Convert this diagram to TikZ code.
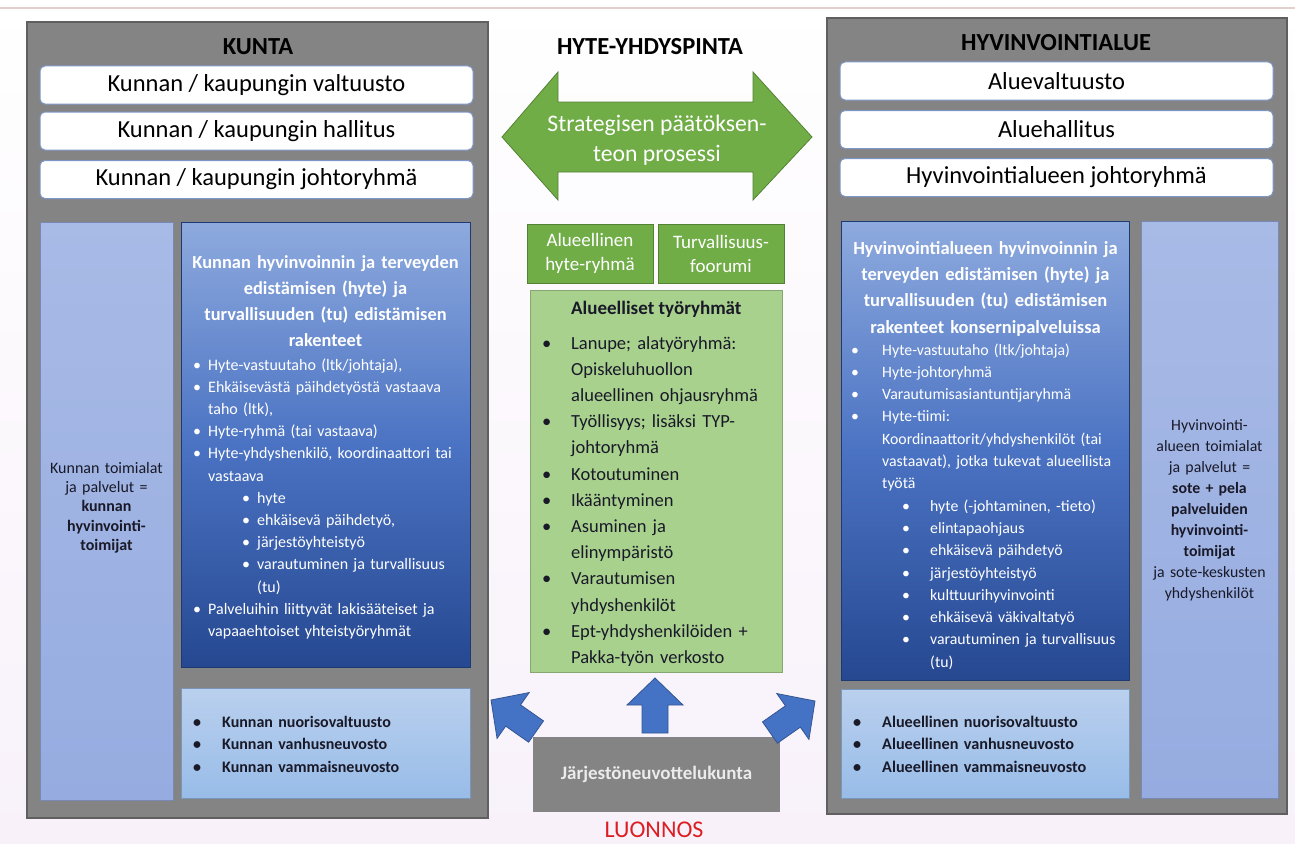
\documentclass[tikz,border=0pt]{standalone}
\usepackage{fontspec}
\setmainfont{Carlito}
\usetikzlibrary{positioning}
\definecolor{panelgray}{RGB}{132,132,132}
\definecolor{edgegray}{RGB}{95,95,95}
\definecolor{boxedge}{RGB}{125,150,200}
\definecolor{hytegreen}{RGB}{112,173,71}
\definecolor{darkgreen}{RGB}{84,130,53}
\definecolor{lightgreen}{RGB}{169,209,142}
\definecolor{bluetop}{RGB}{142,170,222}
\definecolor{bluemid}{RGB}{75,115,195}
\definecolor{bluebot}{RGB}{38,72,145}
\definecolor{paletop}{RGB}{186,208,238}
\definecolor{palebot}{RGB}{152,188,232}
\definecolor{coltop}{RGB}{168,186,230}
\definecolor{colbot}{RGB}{150,172,224}
\definecolor{arrowblue}{RGB}{68,114,196}
\definecolor{draftred}{RGB}{220,30,35}
\definecolor{inktext}{RGB}{25,25,40}
\definecolor{bgpink}{RGB}{248,241,250}
\definecolor{topline}{RGB}{226,208,204}

\newcommand{\fs}[2]{\fontsize{#1}{#2}\selectfont}
% bullet line: bullet offset, text offset, text
\newcommand{\bul}[3]{\hangindent=#2\hangafter=1\noindent\hbox to #2{\hskip #1\textbullet\hfil}#3\par}

\begin{document}
\begin{tikzpicture}[x=1pt,y=-1pt,
  box/.style={anchor=north west,inner sep=0pt,outer sep=0pt},
  panel/.style={box,fill=panelgray,draw=edgegray,line width=1.5pt},
  wbox/.style={fill=white,draw=boxedge,line width=1pt,rounded corners=5pt,
    minimum width=433,minimum height=38,inner sep=0pt,font=\fs{24.5}{28}},
  headline/.style={font=\bfseries\fs{24.5}{28},inner sep=0pt},
  bluebox/.style={box,top color=bluetop,bottom color=bluebot,middle color=bluemid,draw=bluebot!80!black,line width=0.6pt},
  palebox/.style={box,top color=paletop,bottom color=palebot,draw=palebot!80!black,line width=0.6pt},
  colbox/.style={box,top color=coltop,bottom color=colbot,draw=colbot!80!black,line width=0.6pt},
  greenbox/.style={box,fill=hytegreen,draw=darkgreen,line width=0.8pt,align=center,
    text=white,font=\fs{19}{24}},
  listtext/.style={anchor=base west,inner sep=0pt,align=left},
  uparrow/.pic={\fill[arrowblue,draw=arrowblue!75!black,line width=0.8pt]
    (0,0) -- (28,27) -- (13,27) -- (13,55) -- (-13,55) -- (-13,27) -- (-28,27) -- cycle;}]
\useasboundingbox (0,0) rectangle (1295,843);

%background:
\shade[top color=white,bottom color=bgpink] (0,0) rectangle (1295,843);
\draw[line width=1.5pt,color=topline] (0,8) -- (1295,8);

%KUNTA:
\node[panel,minimum width=461,minimum height=796] (kunta) at (27,22) {};
\node[headline] (kuntaT) at (258,47) {KUNTA};
\node[wbox] (kval) at (256.5,85) {Kunnan / kaupungin valtuusto};
\node[wbox] (khal) at (256.5,131) {Kunnan / kaupungin hallitus};
\node[wbox] (kjoh) at (256.5,179.5) {Kunnan / kaupungin johtoryhmä};
\node[colbox,minimum width=133,minimum height=578] (kcol) at (40,222) {};
\node[bluebox,minimum width=289,minimum height=445] (kblue) at (181,222) {};
\node[palebox,minimum width=289,minimum height=110] (kpale) at (181,688) {};

\node[anchor=base,inner sep=0pt,text width=130,align=center,text=inktext,font=\fs{16}{19.4}]
  (kcolT) at (106.5,473) {Kunnan toimialat\\ja palvelut =\\\textbf{kunnan}\\\textbf{hyvinvointi-}\\\textbf{toimijat}};
\node[anchor=base,inner sep=0pt,text width=285,align=center,text=white,font=\bfseries\fs{18.4}{26}]
  (kblueT) at (325.5,268) {Kunnan hyvinvoinnin ja terveyden\\edistämisen (hyte) ja\\turvallisuuden (tu) edistämisen\\rakenteet};
\node[listtext,text width=275,text=white,font=\fs{16}{22.2}] (kblueL) at (193,370) {%
  \bul{0pt}{15pt}{Hyte-vastuutaho (ltk/johtaja),}
  \bul{0pt}{15pt}{Ehkäisevästä päihdetyöstä vastaava\newline taho (ltk),}
  \bul{0pt}{15pt}{Hyte-ryhmä (tai vastaava)}
  \bul{0pt}{15pt}{Hyte-yhdyshenkilö, koordinaattori tai\newline vastaava}
  \bul{49pt}{64pt}{hyte}
  \bul{49pt}{64pt}{ehkäisevä päihdetyö,}
  \bul{49pt}{64pt}{järjestöyhteistyö}
  \bul{49pt}{64pt}{varautuminen ja turvallisuus\newline (tu)}
  \bul{0pt}{15pt}{Palveluihin liittyvät lakisääteiset ja\newline vapaaehtoiset yhteistyöryhmät}};
\node[listtext,text width=275,text=inktext,font=\bfseries\fs{16}{22.5}] (kpaleL) at (193,727) {%
  \bul{0pt}{29pt}{Kunnan nuorisovaltuusto}
  \bul{0pt}{29pt}{Kunnan vanhusneuvosto}
  \bul{0pt}{29pt}{Kunnan vammaisneuvosto}};

%HYTE-YHDYSPINTA:
\node[headline] (hyteT) at (650,47) {HYTE-YHDYSPINTA};
\fill[hytegreen,draw=darkgreen,line width=0.8pt] (502,137) -- (558,72) -- (558,102) -- (753,102)
  -- (753,72) -- (812,137) -- (753,200) -- (753,172) -- (558,172) -- (558,200) -- cycle;
\node[align=center,text=white,font=\fs{23.7}{30},inner sep=0pt] (strat) at (657,140)
  {Strategisen päätöksen-\\teon prosessi};
\node[greenbox,minimum width=126,minimum height=59] (ahr) at (527,224) {Alueellinen\\hyte-ryhmä};
\node[greenbox,minimum width=126,minimum height=59] (tfo) at (658,224) {Turvallisuus-\\foorumi};
\node[box,fill=lightgreen,draw=lightgreen!80!black,line width=0.6pt,minimum width=252,minimum height=382] (tyor) at (530,290) {};
\node[anchor=base west,inner sep=0pt,text=inktext,font=\bfseries\fs{19}{22}] (tyorT) at (571,314) {Alueelliset työryhmät};
\node[listtext,text width=245,text=inktext,font=\fs{18.5}{26.2}] (tyorL) at (541,349) {%
  \bul{1pt}{30pt}{Lanupe; alatyöryhmä:\newline Opiskeluhuollon\newline alueellinen ohjausryhmä}
  \bul{1pt}{30pt}{Työllisyys; lisäksi TYP-\newline johtoryhmä}
  \bul{1pt}{30pt}{Kotoutuminen}
  \bul{1pt}{30pt}{Ikääntyminen}
  \bul{1pt}{30pt}{Asuminen ja\newline elinympäristö}
  \bul{1pt}{30pt}{Varautumisen\newline yhdyshenkilöt}
  \bul{1pt}{30pt}{Ept-yhdyshenkilöiden +\newline Pakka-työn verkosto}};
\node[box,fill=panelgray,minimum width=247,minimum height=75,text=white!92!black,font=\bfseries\fs{19}{22}] (jarj) at (533,737) {Järjestöneuvottelukunta};
\node[text=draftred,font=\fs{24}{26},inner sep=0pt] (luonnos) at (654,830) {LUONNOS};

%arrows:
\pic[rotate=55] at (491,700) {uparrow};
\pic at (655,678) {uparrow};
\pic[rotate=-55] at (815,701) {uparrow};

%HYVINVOINTIALUE:
\node[panel,minimum width=460,minimum height=796] (hva) at (827,18) {};
\node[headline] (hvaT) at (1056,43) {HYVINVOINTIALUE};
\node[wbox] (aval) at (1056.5,81) {Aluevaltuusto};
\node[wbox] (ahal) at (1056.5,129.5) {Aluehallitus};
\node[wbox] (hjoh) at (1056.5,177.5) {Hyvinvointialueen johtoryhmä};
\node[bluebox,minimum width=288,minimum height=459] (hblue) at (841,221) {};
\node[palebox,minimum width=288,minimum height=109] (hpale) at (841,689) {};
\node[colbox,minimum width=137,minimum height=577] (hcol) at (1141,221) {};

\node[anchor=base,inner sep=0pt,text width=134,align=center,text=inktext,font=\fs{15.8}{21}]
  (hcolT) at (1209.5,430) {Hyvinvointi-\\alueen toimialat\\ja palvelut =\\\textbf{sote + pela}\\\textbf{palveluiden}\\\textbf{hyvinvointi-}\\\textbf{toimijat}\\ja sote-keskusten\\yhdyshenkilöt};
\node[anchor=base,inner sep=0pt,text width=285,align=center,text=white,font=\bfseries\fs{18.5}{26.4}]
  (hblueT) at (985.5,254) {Hyvinvointialueen hyvinvoinnin ja\\terveyden edistämisen (hyte) ja\\turvallisuuden (tu) edistämisen\\rakenteet konsernipalveluissa};
\node[listtext,text width=275,text=white,font=\fs{15.8}{22.3}] (hblueL) at (851,355) {%
  \bul{0pt}{31pt}{Hyte-vastuutaho (ltk/johtaja)}
  \bul{0pt}{31pt}{Hyte-johtoryhmä}
  \bul{0pt}{31pt}{Varautumisasiantuntijaryhmä}
  \bul{0pt}{31pt}{Hyte-tiimi:\newline Koordinaattorit/yhdyshenkilöt (tai\newline vastaavat), jotka tukevat alueellista\newline työtä}
  \bul{51pt}{79pt}{hyte (-johtaminen, -tieto)}
  \bul{51pt}{79pt}{elintapaohjaus}
  \bul{51pt}{79pt}{ehkäisevä päihdetyö}
  \bul{51pt}{79pt}{järjestöyhteistyö}
  \bul{51pt}{79pt}{kulttuurihyvinvointi}
  \bul{51pt}{79pt}{ehkäisevä väkivaltatyö}
  \bul{51pt}{79pt}{varautuminen ja turvallisuus\newline (tu)}};
\node[listtext,text width=275,text=inktext,font=\bfseries\fs{16.2}{22.5}] (hpaleL) at (853,727) {%
  \bul{0pt}{29pt}{Alueellinen nuorisovaltuusto}
  \bul{0pt}{29pt}{Alueellinen vanhusneuvosto}
  \bul{0pt}{29pt}{Alueellinen vammaisneuvosto}};
\end{tikzpicture}
\end{document}
